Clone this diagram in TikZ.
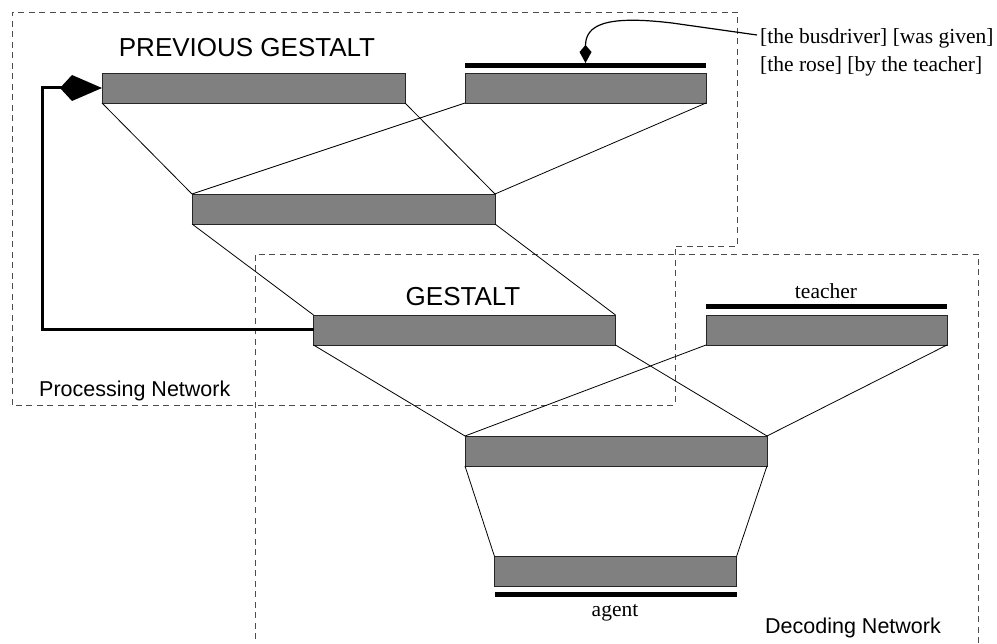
\documentclass[tikz,border=0pt]{standalone}
\usepackage{fontspec}
\setmainfont{Liberation Serif}
\newfontfamily\sansf{Liberation Sans}
\usetikzlibrary{arrows.meta}
\begin{document}
\begin{tikzpicture}[x=1pt,y=-1pt,
  gbox/.style={draw=black!85,line width=0.9pt,fill=black!50,inner sep=0pt,outer sep=0pt,minimum height=30pt},
  bar/.style={fill=black,draw=none,inner sep=0pt,outer sep=0pt,minimum height=5pt},
  link/.style={line width=0.8pt,draw=black},
  region/.style={draw=black!70,line width=0.8pt,dash pattern=on 6pt off 4.5pt},
  bigsans/.style={font=\sansf\fontsize{26}{30}\selectfont,inner sep=0pt},
  labsans/.style={font=\sansf\fontsize{21.5}{25}\selectfont,inner sep=0pt},
  labserif/.style={font=\fontsize{21.5}{28}\selectfont,inner sep=0pt}
]
\useasboundingbox (0,0) rectangle (997,644);
% regions
\draw[region] (12,405) -- (12,12) -- (737,12) -- (737,246) -- (675,246) -- (675,405) -- cycle;
\draw[region] (255,660) -- (255,254) -- (978,254) -- (978,660);
% boxes
\node[gbox,minimum width=303pt] (prev) at (253.5,88) {};
\node[gbox,minimum width=241pt] (inbox) at (585.5,88) {};
\node[gbox,minimum width=303pt] (hid) at (343.5,209) {};
\node[gbox,minimum width=302pt] (gest) at (464.5,330) {};
\node[gbox,minimum width=241pt] (teach) at (826.5,330) {};
\node[gbox,minimum width=302pt] (dec) at (616,451) {};
\node[gbox,minimum width=242pt] (agent) at (615.5,571.5) {};
% bars
\node[bar,minimum width=241pt] (inbar) at (585.5,65.5) {};
\node[bar,minimum width=241pt] (teachbar) at (826.5,307) {};
\node[bar,minimum width=242pt] (agentbar) at (615.5,594) {};
% connections
\draw[link] (prev.south west) -- (hid.north west);
\draw[link] (prev.south east) -- (hid.north east);
\draw[link] (inbox.south west) -- (hid.north west);
\draw[link] (inbox.south east) -- (hid.north east);
\draw[link] (hid.south west) -- (gest.north west);
\draw[link] (hid.south east) -- (gest.north east);
\draw[link] (gest.south west) -- (dec.north west);
\draw[link] (gest.south east) -- (dec.north east);
\draw[link] (teach.south west) -- (dec.north west);
\draw[link] (teach.south east) -- (dec.north east);
\draw[link] (dec.south west) -- (agent.north west);
\draw[link] (dec.south east) -- (agent.north east);
% texts
\node[bigsans,anchor=base] (prevlab) at (247,57) {PREVIOUS GESTALT};
\node[bigsans,anchor=base] (gestlab) at (463,306) {GESTALT};
\node[labserif,anchor=base] (teachlab) at (826,299) {teacher};
\node[labserif,anchor=base] (agentlab) at (615,616) {agent};
\node[labsans,anchor=base west] (proclab) at (39,397) {Processing Network};
\node[labsans,anchor=base west] (decolab) at (765,633) {Decoding Network};
\node[labserif,anchor=north west,align=left] (sent) at (760,28) {[the busdriver] [was given]\\{}[the rose] [by the teacher]};
% feedback
\draw[line width=3pt,line join=miter,-{Kite[length=42pt,width=26pt,inset=12pt]}] (gest.west) -- ++(-271,0) |- (prev.west);
% input arrow
\coordinate (src) at (757,35);
\draw[line width=1.2pt,-{Kite[length=18pt,width=12pt,inset=7pt]}] (src) -- (672,23) .. controls (605,15) and (585.5,25) .. (inbar.north);
\end{tikzpicture}
\end{document}
